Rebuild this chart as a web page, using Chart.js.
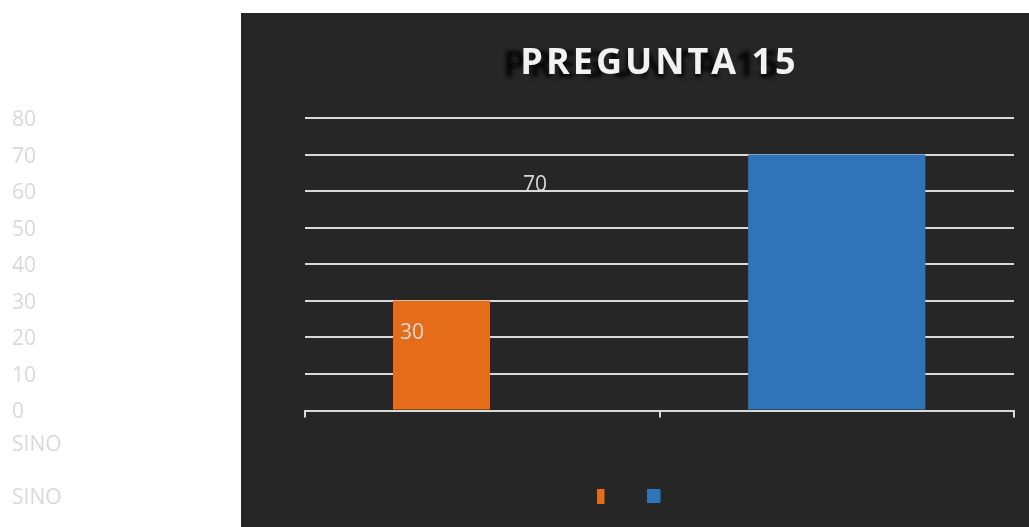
<!DOCTYPE html>
<html>
<head>
<meta charset="utf-8">
<script src="https://cdn.jsdelivr.net/npm/chart.js@4/dist/chart.umd.min.js"></script>
<style>
  html, body { margin: 0; padding: 0; background: #ffffff; }
  #wrap { width: 1029px; height: 527px; position: relative; }
</style>
</head>
<body>
<div id="wrap"><canvas id="c"></canvas></div>
<script>
// ---- data ----
const categories = ['SI', 'NO'];
const siValues = [30, null];
const noValues = [null, 70];
const yMin = 0;
const yMax = 80;
const yStep = 10;
const titleText = 'PREGUNTA 15';

// ---- style ----
const ORANGE = '#E56C18';
const BLUE = '#2E74B6';
const PANEL = '#262626';
const LIGHT = '#d9d9d9';
const FONT = '"Open Sans", "DejaVu Sans", sans-serif';

function legendMark(color, w, h, dx) {
  const c = document.createElement('canvas');
  c.width = w + 2 * Math.abs(dx);
  c.height = h;
  const g = c.getContext('2d');
  g.fillStyle = color;
  g.fillRect(c.width / 2 + dx - w / 2, 0, w, h);
  return c;
}
const legendMarks = [legendMark(ORANGE, 8, 15, -29), legendMark(BLUE, 14, 14, -29)];

const panelPlugin = {
  id: 'panel',
  beforeDraw(chart) {
    const ctx = chart.ctx;
    ctx.save();
    ctx.fillStyle = PANEL;
    ctx.fillRect(241, 13, chart.width - 241, chart.height - 13);
    ctx.restore();
  }
};

const titleStyler = {
  id: 'titleStyler',
  afterInit(chart) {
    const tb = chart.titleBlock;
    if (!tb || tb._styled) return;
    const orig = tb.draw.bind(tb);
    tb.draw = function (area) {
      const ctx = chart.ctx;
      ctx.save();
      ctx.letterSpacing = '3px';
      ctx.shadowColor = 'rgba(0,0,0,0.9)';
      ctx.shadowBlur = 4;
      ctx.shadowOffsetX = -17;
      ctx.shadowOffsetY = 3;
      orig(area);
      ctx.restore();
    };
    tb._styled = true;
  }
};

const valueLabels = {
  id: 'valueLabels',
  afterDatasetsDraw(chart) {
    const ctx = chart.ctx;
    const m0 = chart.getDatasetMeta(0).data[0];
    const m1 = chart.getDatasetMeta(1).data[1];
    const cat0 = chart.scales.x.getPixelForValue(0);
    ctx.save();
    ctx.font = '21px ' + FONT;
    ctx.fillStyle = LIGHT;
    ctx.textAlign = 'left';
    ctx.textBaseline = 'middle';
    ctx.fillText(String(siValues[0]), m0.x - m0.width / 2 + 7, m0.y + 32);
    ctx.fillText(String(noValues[1]), cat0 + (cat0 - m0.x), m1.y + 30);
    ctx.restore();
  }
};

const sideLabels = {
  id: 'sideLabels',
  afterDraw(chart) {
    const ctx = chart.ctx;
    ctx.save();
    ctx.font = '21px ' + FONT;
    ctx.fillStyle = LIGHT;
    ctx.textAlign = 'left';
    ctx.textBaseline = 'middle';
    const txt = categories.join('');
    ctx.fillText(txt, 12, 445);
    ctx.fillText(txt, 12, 498);
    ctx.restore();
  }
};

new Chart(document.getElementById('c'), {
  type: 'bar',
  data: {
    labels: categories,
    datasets: [
      {
        label: '',
        data: siValues,
        backgroundColor: ORANGE,
        categoryPercentage: 0.46,
        barPercentage: 1.19
      },
      {
        label: '',
        data: noValues,
        backgroundColor: BLUE,
        skipNull: true,
        categoryPercentage: 0.5,
        barPercentage: 1
      }
    ]
  },
  options: {
    responsive: true,
    maintainAspectRatio: false,
    animation: false,
    devicePixelRatio: 1,
    layout: { padding: { left: 12, right: 15, top: 0, bottom: 14 } },
    plugins: {
      tooltip: { enabled: false },
      title: {
        display: true,
        text: titleText,
        fullSize: false,
        color: '#f2f2f2',
        font: { family: FONT, size: 36, weight: 'bold', lineHeight: 1.2 },
        padding: { top: 42, bottom: 32.8 }
      },
      legend: {
        display: true,
        position: 'bottom',
        fullSize: false,
        align: 'center',
        labels: {
          usePointStyle: true,
          boxWidth: 14,
          boxHeight: 14,
          padding: 32,
          font: { family: FONT, size: 14 },
          color: LIGHT,
          generateLabels(chart) {
            const items = Chart.defaults.plugins.legend.labels.generateLabels(chart);
            items.forEach((it, i) => { it.pointStyle = legendMarks[i]; it.text = ''; });
            return items;
          }
        }
      }
    },
    scales: {
      x: {
        offset: true,
        grid: {
          offset: true,
          drawOnChartArea: false,
          drawTicks: true,
          tickLength: 7,
          color: LIGHT,
          lineWidth: 2
        },
        border: { display: true, color: LIGHT, width: 2 },
        ticks: { display: false },
        afterFit(scale) { scale.height = 46.5; }
      },
      y: {
        min: yMin,
        max: yMax,
        ticks: {
          stepSize: yStep,
          color: LIGHT,
          font: { family: FONT, size: 21 },
          crossAlign: 'far',
          padding: 0,
          labelOffset: 2
        },
        grid: {
          drawTicks: false,
          color: LIGHT,
          lineWidth: 2
        },
        border: { display: false },
        afterFit(scale) { scale.width = 293; }
      }
    }
  },
  plugins: [panelPlugin, titleStyler, valueLabels, sideLabels]
});
</script>
</body>
</html>
